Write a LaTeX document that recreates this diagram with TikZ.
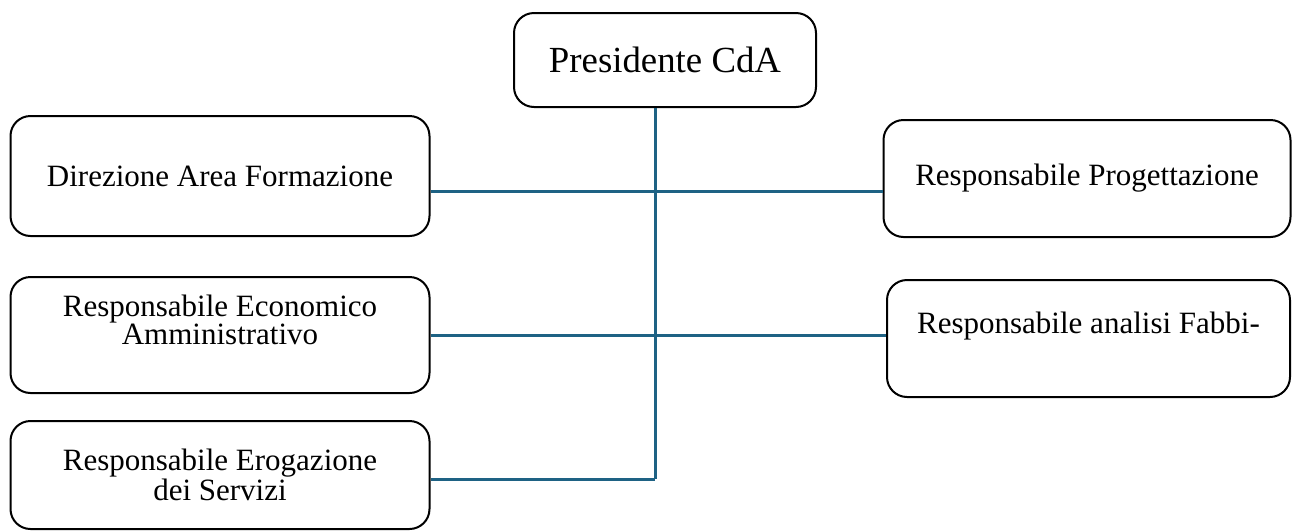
\documentclass[tikz,border=0pt]{standalone}
\usepackage{fontspec}
\setmainfont{Liberation Serif}
\definecolor{linkblue}{RGB}{30,98,132}
\begin{document}
\begin{tikzpicture}[x=0.5pt,y=-0.5pt,
    unit/.style={draw=black, line width=1pt, rounded corners=10pt, align=center,
        font=\fontsize{15.5}{14}\selectfont, inner sep=0pt},
    link/.style={draw=linkblue, line width=1.5pt}]
    \useasboundingbox (0,0) rectangle (1292,531);
    \node[unit, minimum width=151pt, minimum height=47pt, font=\fontsize{18.4}{20}\selectfont] (pres) at (665,60) {Presidente CdA};
    \node[unit, minimum width=209.5pt, minimum height=60pt] (dir) at (220,176) {Direzione Area Formazione};
    \node[unit, minimum width=209.5pt, minimum height=58pt, text height=24.5pt, text depth=15.5pt] (eco) at (220,335) {Responsabile Economico\\Amministrativo};
    \node[unit, minimum width=209.5pt, minimum height=54pt] (ero) at (220,475) {Responsabile Erogazione\\dei Servizi};
    \node[unit, minimum width=203.5pt, minimum height=58.5pt] (prog) at (1087,178.5) {Responsabile Progettazione};
    \node[unit, minimum width=201.5pt, minimum height=58.5pt, text height=11pt, text depth=16pt] (fab) at (1088.5,338.5) {Responsabile analisi Fabbi-};
    \coordinate (y1) at (655,191);
    \coordinate (y2) at (655,335);
    \coordinate (y3) at (655,479);
    \draw[link] (pres.south -| y1) -- (y3);
    \draw[link] (dir.east |- y1) -- (prog.west |- y1);
    \draw[link] (eco.east |- y2) -- (fab.west |- y2);
    \draw[link] (ero.east |- y3) -- (y3);
\end{tikzpicture}
\end{document}
